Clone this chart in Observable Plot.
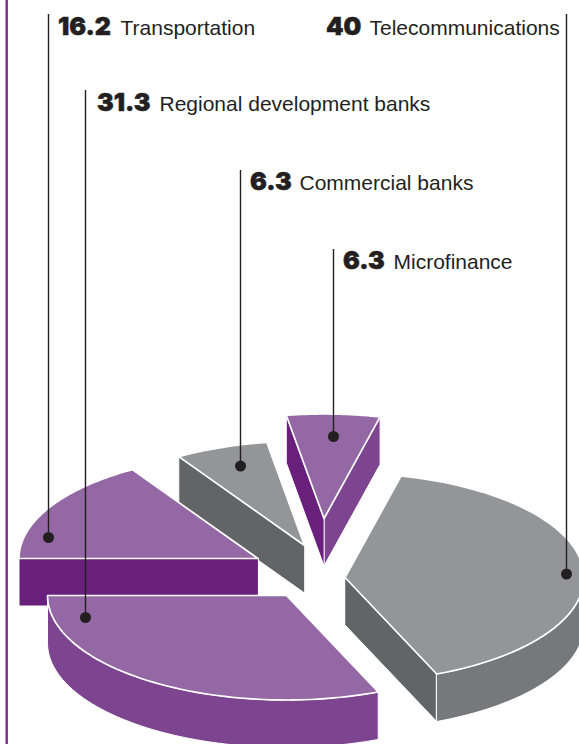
<!DOCTYPE html>
<html>
<head>
<meta charset="utf-8">
<style>
  html, body { margin: 0; padding: 0; background: #fff; }
  svg { display: block; }
</style>
<script src="https://cdn.jsdelivr.net/npm/d3@7"></script>
<script src="https://cdn.jsdelivr.net/npm/@observablehq/plot@0.6"></script>
</head>
<body>
<script>
// Share of financing by sector, in slice order round the pie
const categories = ["Regional development banks", "Telecommunications", "Microfinance", "Commercial banks", "Transportation"];
const shares = [31.3, 40, 6.3, 6.3, 16.2];
const shareLabels = ["31.3", "40", "6.3", "6.3", "16.2"];
const tones = ["purple", "grey", "purple", "grey", "purple"];

// Exploded position of each slice's tip
const tipX = [286, 344.5, 323.5, 304, 257.5];
const tipY = [595, 577, 518, 545, 558];

// Leader lines and label placement
const leaderX = [85, 566, 333, 240, 48];
const leaderTop = [90, 14, 249, 170, 14];
const leaderEnd = [617, 573.5, 436, 465.5, 537];
const valueX = [96.5, 325.5, 342.5, 249.5, 57.5];
const nameX = [159, 369, 393, 299, 120];
const baseline = [110, 34, 268, 189.5, 34];

// Back-to-front order of the slices
const paintOrder = [3, 4, 0, 2, 1];

const W = 579, H = 744;
const RX = 239, RY = 104.5, DEPTH = 47.5;
const ink = "#231f20";
const palette = {
  purple: {top: "#9468a5", outer: "#7d458f", startWall: "#7d458f", endWall: "#691f7c"},
  grey: {top: "#939598", outer: "#77787b", startWall: "#636466", endWall: "#636466"}
};

const total = d3.sum(shares);
const rad = Math.PI / 180;
let angle = 180;
const slices = shares.map((s, i) => {
  const start = angle;
  angle -= s / total * 360;
  return {i, start, end: angle, tone: palette[tones[i]]};
});

const rim = (s, a, dz = 0) => ({
  x: tipX[s.i] + RX * Math.cos(a * rad),
  y: tipY[s.i] + RY * Math.sin(a * rad) + dz
});
const arc = (s, a0, a1, dz = 0) =>
  d3.range(0, 61).map((k) => rim(s, a0 + (a1 - a0) * k / 60, dz));
const tip = (s, dz = 0) => ({x: tipX[s.i], y: tipY[s.i] + dz});

const facet = (pts, fill, strokeWidth) =>
  Plot.line(pts, {x: "x", y: "y", curve: "linear-closed", fill, stroke: "#fff", strokeWidth, strokeLinejoin: "round"});

const sliceMarks = paintOrder.flatMap((i) => {
  const s = slices[i], out = [];
  // Radial side walls show only where they face the viewer
  if (Math.cos(s.start * rad) > 0)
    out.push(facet([tip(s), rim(s, s.start), rim(s, s.start, DEPTH), tip(s, DEPTH)], s.tone.startWall, 1));
  if (Math.cos(s.end * rad) < 0)
    out.push(facet([tip(s), rim(s, s.end), rim(s, s.end, DEPTH), tip(s, DEPTH)], s.tone.endWall, 1));
  // Curved outer wall: the part of the rim on the near half of the ellipse
  const a0 = Math.min(s.start, 180), a1 = Math.max(s.end, 0);
  if (a0 > a1)
    out.push(facet([...arc(s, a0, a1), ...arc(s, a1, a0, DEPTH)], s.tone.outer, 1));
  out.push(facet([tip(s), ...arc(s, s.start, s.end)], s.tone.top, 1.7));
  return out;
});

const rows = categories.map((name, i) => ({
  name, value: shareLabels[i], lx: leaderX[i], top: leaderTop[i], end: leaderEnd[i],
  vx: valueX[i], nx: nameX[i], y: baseline[i]
}));

const chart = Plot.plot({
  width: W, height: H,
  margin: 0,
  x: {domain: [0, W], range: [0, W], axis: null},
  y: {domain: [0, H], range: [0, H], axis: null},
  marks: [
    Plot.ruleX([6.2], {y1: 0, y2: H, stroke: "#7a2a8c", strokeWidth: 2.4}),
    ...sliceMarks,
    Plot.ruleX(rows, {x: "lx", y1: "top", y2: "end", stroke: ink, strokeWidth: 1.4}),
    Plot.dot(rows, {x: "lx", y: "end", r: 5.5, fill: ink}),
    Plot.text(rows, {x: "vx", y: "y", text: "value", textAnchor: "start", lineAnchor: "bottom", fontFamily: "Inter", fontWeight: 900, fontSize: 25, fill: ink, stroke: ink, strokeWidth: 0.5}),
    Plot.text(rows, {x: "nx", y: "y", text: "name", textAnchor: "start", lineAnchor: "bottom", fontFamily: "Liberation Sans", fontSize: 21, fill: ink})
  ]
});
document.body.appendChild(chart);
</script>
</body>
</html>
